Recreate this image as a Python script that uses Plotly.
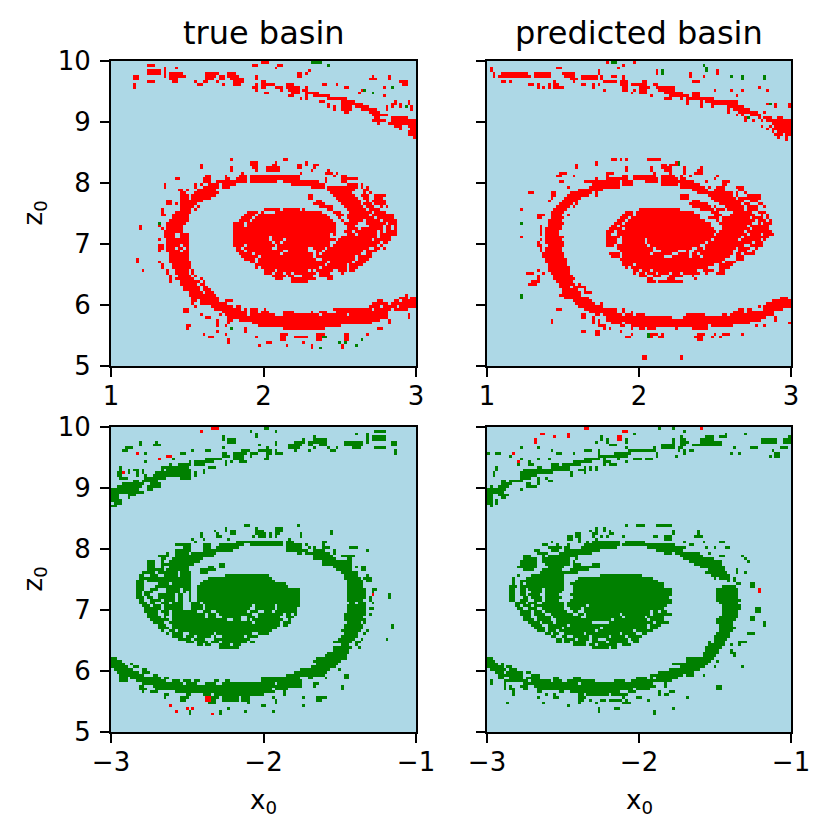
import plotly.graph_objects as go
from plotly.subplots import make_subplots

N = 110
BG, RED, GREEN = "#ADD8E6", "#FF0000", "#008000"

# Each entry: row from the top of the panel -> occupied cell columns (runs)
true_upper_red = {
0:"54-56",1:"13-15 51-52 60-61",2:"19 23 59",3:"13-17 19 71",4:"13-17 19 21-25 34-38 42-44 67-68 70",
5:"8-9 19 21-26 34-37 39-40 42-45 52 67-68 94 100",6:"8-9 21-23 34-36 39-40 43-47 52 93-95 100",
7:"13-15 22-23 30 33-34 38 44-47 54-55 104-106",8:"8 31-32 40 44-46 52 54-58 63-65 76-77 81 105-106",
9:"8 51-52 54-55 59-61 63-67 70 84-85 98",10:"52 61 64-67 69-70 90",11:"55-56 65-67 70-74 89",12:"64-65 70 73-78 98",
13:"68 70 78-84",14:"75-76 83-87 102 107",15:"78 83-90 101-102 104 107",16:"78 80 83-86 88-92 99 101 104 108",
17:"80 83-86 90-95 99 108",18:"84-85 93-96",19:"94-99",20:"95-96 101-106",21:"94-98 101-109",22:"96 100-109",
23:"102-104 107-109",24:"104 108-109",25:"107-109",26:"107-109",27:"109",
35:"43 62-63",36:"50-52 59 70",37:"32 50-52 58-59 67-68 70 73-74",38:"32 43 51-52 56-60 67-68 73",39:"43 52 56-60 72 78",
40:"47 68 77-79 81",41:"34-35 41 46-48 50-67 80 83-84",42:"23-24 33-35 41-42 45-48 50-67 77 83-88",
43:"33-35 38-44 45-48 50-53 54-59 62-74 77 83-84",44:"19 30 32 35-38 40-44 65-76 85-88 90",45:"19 30 33-38 40-42 72-76 78-82 83-88 90 92",
46:"24-25 27 31-37 78-82 83-87 91-92",47:"25-26 30-38 79-86 91 93",48:"25-27 29-37 71-72 80-87 90-92 95-98",
49:"25-27 29-35 71-72 81-88 91-92 95-97",50:"20-21 25-32 74-75 82-89 92 94-98",51:"20-21 23 25-30 73-76 83-89 91-93 95-98",
52:"25-29 31 75-79 84-90 92-94 97 99",53:"18 25-28 30 55-60 62-67 69 78-79 85-91 93-96",
54:"18 23-28 49-52 54 59-75 80-82 86-93 95-98",55:"18-19 22-27 48-51 53-77 81-83 85-92 94-101",56:"22-27 47-50 52-78 82 85-94 96-101",
57:"21-27 46-49 51-79 83 86-90 92-96 98-102",58:"17 20-26 44-47 49-80 84-88 92-98 100-102",59:"10 17 20-25 44-47 49-80 85-87 93-97 99-100 102",
60:"10 18 20-25 44-80 85-88 90-97 99-100 102",61:"19 20-25 44-80 84-86 88-95 97 99-102",62:"19 20-22 25-27 44-78 80 85-87 89-95 97-102",
63:"19 20-22 25-27 44-56 58-78 83-95 97-100",64:"17 20-27 44-56 58-61 63-80 82-93 95-100",65:"20-27 44-57 59-60 62-78 81-96 98-99",
66:"17-18 20-24 26-27 44-47 49-58 60-78 80-95 97",67:"17-18 20-22 24-25 27 45-46 48-57 60-70 73-76 78-92 95-96 98",
68:"17 20-24 26-27 45-47 49-61 64-70 74-75 77-90 92-95",69:"21-27 46-50 52-60 62-72 74 76-89 92-93",
70:"21-27 47-52 54-72 74-87 89-93",71:"9 21-27 48-51 53-73 76-87 89-92",72:"9 17 21-28 50-51 53-77 79-86 88-91",
73:"18 22-28 52-76 78-84 86-90",74:"18 22-27 28 52 54-74 76-84 86-88",75:"11 20 23-27 29 55-58 60-70 72 74-79 82-84 86-87",
76:"20 23-27 29 55-57 59-61 63-64 66-73 75-78 83",77:"21 24-28 30 58-62 64-65 69-72 75-79",78:"21 23-29 32 59-61 65-73 78-79",
79:"21 25-31 33 65-70",80:"25-30 32-33",81:"26-31 33-34",82:"26-31 33-35",83:"28-32 34-36",84:"28-37 106",85:"29-38 104-106 108-109",
86:"29-30 32-38 41-43 96-97 102-103 105-109",87:"29 32-41 94-99 101-109",88:"30 36-43 45-46 93-96 98-102 104-109",
89:"26-27 37-46 48 50-52 55 80-93 95-100 102-106",90:"26-27 40-48 50-52 54-56 62-65 72 75-77 81-99",
91:"32 39 41-48 50-58 62-74 76-84 86-99 107",92:"34-35 42-99 107",93:"38 42-43 46-96 100",94:"38 42 51-93 100",
95:"27-28 38 41 53-82",96:"27 48 62-76 96-97",97:"38 48",98:"33 41 61-63 74-76 84-85 92",99:"35-36 52 61-62 66-70 74-75 84-85",
100:"42 61-62 74-75 84-85",101:"42 56-57 69",102:"53 63 72 83",103:"72 83",}
true_upper_green = {0:"72-75",1:"78",9:"101",10:"91",11:"94",16:"106",58:"17",96:"43",99:"76-77",
100:"90",101:"82 84",102:"88",103:"75",}

pred_upper_red = {
0:"43 53",1:"49",2:"1 25-26 47",3:"1 40 61 83",4:"2 5-14 17-22 27-31 40 61 73 83",5:"2 4-15 17-22 28-31 34-39 41 45-46 49 73 78",
6:"30-32 34-39 41 49",7:"5-6 8 24 31 42-46 48-49 50 56-57 74-76",8:"15-16 18 22 24-25 34-35 38 40 48-49 50 52-57 60-61",
9:"18 20 22 24-27 38 49 50 55-57 58 61-67 98",10:"42 49-50 53 55-57 62-67 82 88 92 101",11:"52 55-57 64-70 74-76",12:"59 66-72 74-76 90",
13:"64-66 70 72-77 78-81",14:"72 77 79-90",15:"72 77 81-90 101 104 109",16:"77 81 87-92 104 109",17:"87 89-94",18:"87 91-97 100",
19:"90 92 95-98",20:"93 98 100-102 105-106",21:"93 96 99 101-105 106-109",22:"103-109",23:"99 102 104-109",24:"101 103-109",
25:"103 105-109",26:"104-106 108-109",27:"105 108",28:"108",
35:"45-46 48 50 58-61 62",36:"39 68",37:"32 39 63-64 66-67 68",38:"32 50 59 63-66 71 77",39:"50 59 64-66 71 76-77",
40:"26-28 43-45 60 66 71 75-77",41:"25-26 31 43 49-50 53-60 63-67 70 73 83",42:"39 43-50 53-61 63-68 70-71 82",
43:"26-27 35-37 38-47 49-52 57-61 63-74 79 85-87",44:"38-47 49-52 63-68 70-76 85-86",45:"29 37-42 43-47 70-78 80 83-85 90-92",
46:"33-37 38-41 74-79 82-85 91-92",47:"15-16 23-24 30-37 39 76-80 81-88 90 93",48:"23-24 29-36 39 70-72 80-88 90 94-98",
49:"23 28-33 70-72 81-89 91-98",50:"22 27-32 74-76 82-91 92 95-97",51:"26-30 32 73-79 84-91 93-94 98 99",
52:"25-29 31 74-80 82 86-92 94-97 100",53:"12 24-28 55-69 77-81 83-85 87-92 94-97",54:"23-27 50-52 54-74 81-83 89-95 98-100",
55:"18-20 23-26 29 49-52 54-76 82-84 88-96 99 101",56:"18-19 23-27 48-50 52-76 80-83 85-94 96-99 101",57:"22-26 47-49 51-78 83 85-96 98-100 102",
58:"12 22-27 46-48 50-80 84 85-95 98 100-102",59:"19 22-26 45-46 48-80 85-93 95-99 100-101",60:"19 21-26 44-48 50-81 85-94 96-99 100-101",
61:"19 21-25 43-45 47-82 84 85-92 94-99 100-102",62:"19 21-25 43-44 47-81 83-93 95-98 100-103",63:"12 21-27 43-47 49-82 83-91 93-99 100-101",
64:"19 21-26 43-46 49-56 58-80 82-90 92-98 100",65:"18 21-27 43-46 49-56 58-78 80-95 97-99",66:"18-19 22-27 43-45 47-57 59-76 79-92 95-99",
67:"19 21-26 47-59 61-73 76-77 79-89 91-94 97",68:"19 21-26 48-59 63-68 72 75-88 91-93 96",69:"20-27 44-47 49-58 60-66 69-72 74-75 77-88 90-91 93-96",
70:"20-27 45-47 49-63 67-72 74-76 78-87 90-92",71:"21-28 48-85 90-92",72:"21-28 49-84 86-89",73:"22-28 49-52 54-81 84-88",
74:"22-29 50 52-79 84-87",75:"18 22-29 53-54 56-58 60-73 74-75 78-81 84-85",76:"14-16 20 23-29 53 55-56 58-60 62-65 67-69 71-76 79 83-85",
77:"18 24-30 55-57 60-62 66-70 74",78:"18 24-31 58-59 65-67 75",79:"16-18 25-30 58-60 62-70",80:"15-17 26-31 33",81:"26-29 31-35",
82:"27-32 35",83:"27-33 35-37",84:"26-33",85:"28-36 106-108",86:"31-37 103-109",87:"32-38 41 101-109",
88:"33-41 98 100-109",89:"25-26 35-46 49 91-92 94-95 100-106",90:"37-46 49 52 89-92 94-103",
91:"34-35 39-40 42-48 50-52 54-56 72-78 85-86 88-103",92:"34-35 38 43-66 71-100 104",93:"23 38 40 43-98 104",94:"23 38 40 45-48 50-94 109",
95:"40-42 48-49 52-79 81-88 97 100",96:"42 44 52 55-56 58-60 68 74-79",97:"34-35 39-40 48",98:"39-40 52 59-61 63 76-78 82 85-87 92",
99:"50-51 59 62-63 75-77 81 84",100:"76-77",106:"56-57 70",107:"56-57 70",}
pred_upper_green = {0:"45-46",1:"78",2:"79",3:"63 79",4:"63",5:"88 92 100",6:"92 100",15:"102",20:"94",36:"69",37:"69",
58:"12",98:"58",99:"58",84:"12",85:"12",}

true_lower_green = {
0:"55-56",1:"50 59 95-98",2:"52 88 92",3:"40 52 73 92 94-98",4:"40 42-44 69 73-77 92 94-98",
5:"10 16 42-44 59 66-69 71-72 73-77 84-90 92 101-102",6:"10 15-17 53 59 64-68 71-72 75-77 84-90 101-102",
7:"5-7 40 56 64-67 73 78 81 87-89 95-98",8:"4-5 29 34-35 47-49 53-57 59 66 71 79-80 102",
9:"12 25-26 40-41 44-48 50-52 56-57 59-61 102",10:"40-42 44-47 50 56",11:"22 34-39 44-47 55-56",12:"12 28 30-36 41 43 46-48",
13:"21 24-28 30-33 41",14:"3 18-27 35-37",15:"3 6 8-9 11 18 20-28 33",16:"2-3 6 9 11 16-28 30 33",17:"2-3 9 12 15-25 25-28 30",
18:"3-5 12-19 25-28",19:"8-9 11-16",20:"4-11 14-17",21:"2-10 13-17",22:"0-9 13-14",23:"0-11",24:"0-2 6-8",25:"0-2 6",26:"0-3",27:"1-3",28:"0-1",
35:"48-49 67",36:"41 52 59-61",37:"37 41 43-44 52-54 59-61 79",38:"32 38 43-44 52-55 57 59-60 68 79",39:"32 38-39 51 53-55 57 59 68",
40:"29 33 42 64",41:"30 45-61 63-65 76-77",42:"23-27 28 33-35 39-47 50-61 63-68 70 76",43:"26-28 33-35 38-45 63-68 71 73 76-77 78 86-88",
44:"23-28 33-43 63-70 73-76 80 92",45:"20 23-27 29-37 67-68 70-78 80",46:"17-19 20 23-32 33-36 73-79 83-87",47:"18-19 22-32 73-80 85-86",
48:"13-15 18 21-31 76-84 85-86",49:"13-15 18-20 21-29 39-40 76-86",50:"13-15 18 21-27 35-36 39-40 80-86 88 90-91",
51:"13-18 20-27 32-37 81-86 90-91",52:"11-15 17-23 25-28 32-34 83-88",53:"10-11 14-16 19-23 25-28 41-56 84-88 92",
54:"10-16 17-22 23-28 35-57 84-89 91-93",55:"9-11 13-16 17-28 33-58 85-90 92 93",56:"9-11 17-20 22-28 32-62 85-90",57:"9-11 16-20 21-28 31-63 85-90",
58:"9-11 14-16 20-24 26-28 31-67 85-91 94-95",59:"9-10 12-14 20-24 26 28 31-67 85-91 94",60:"9-10 12-13 17-22 24-25 28 31-67 85-91 100",
61:"9-11 13-14 17-22 24-25 28 31-67 85-91 93 100",62:"10-11 14-17 19-22 24-25 28 31-67 85-90 93",63:"10-12 14-15 18-20 22-25 29-31 33-67 86-87 89-91 94",
64:"11-13 15-17 19-25 29-32 34-50 52-58 60-67 85-91",65:"12-17 19-25 29-32 34-49 52-58 60-66 85-91 93-94",66:"12-16 18-20 22-30 33-35 38-48 50-52 55-57 59-66 85-91",
67:"13-16 19-20 22-33 35-37 39-50 53-61 63-64 66 84-91 93",68:"13-17 19 22-33 35-37 40-46 49-51 53-60 63-65 84-90",69:"14-20 22-41 44-46 49 51-61 64 84-91",
70:"15-18 21-50 52-60 62-64 85-89 91",71:"17-19 22-60 62-63 84-90 101",72:"17-20 22-59 84-90 101",73:"18 21-22 24-57 83-89 92",
74:"20 22-25 28-36 38-50 53-56 84-88 91",75:"22-25 27-29 31-35 37 40-47 49-52 83-88",76:"24-28 30-33 37-41 42-49 82-87 90 99",
77:"27-29 31-34 36-38 40-48 50-51 80-86 88-89",78:"31-32 34-35 39-42 44-46 83-85 88",79:"39-45 80-86 89",80:"80-85",81:"78-85",
82:"77-84",83:"0-1 74-84",84:"0-3 73-82",85:"0-4 7 74-81",86:"0-5 8-9 72-80",87:"1-7 11-12 68-78 82",88:"2-9 11-13 66-77",
89:"3-11 15-16 63-76 84-85",90:"3-5 7-17 19-20 54-67 71-72 77 84-85",91:"3-5 9-19 22-24 26-28 30-31 37-38 41-42 54-68",
92:"11-25 27-30 34-37 40-58 60-68 73-74",93:"10-11 15-68 73 83",94:"10-12 16-57 59-63 83",95:"11 14-16 23-58 62",96:"19-20 27-28 33-35 37-54 62",
97:"19 25-27 36-38 40-45 47-49 58 69 74-76 77",98:"25-26 36-37 40-45 47-49 59 74-75",99:"35-37 49 59",100:"54-55 69",
101:"42",102:"28 39 48 58",103:"28 39",}
true_lower_red = {0:"36-38",1:"32",9:"9",10:"20-21",11:"17",16:"4",60:"94",97:"34-35",98:"34-35",100:"21",101:"27 29",102:"23",103:"36",}

pred_lower_green = {
0:"62 67",1:"71",2:"53 86 93",3:"41 70 79-81 84-86 109",4:"41 43 50 67 70-71 77-81 99-104 107-109",
5:"39 43 50 67 70-72 77-84 99-104 107-109",6:"44-46 63-66 67 70-71 74-76 77-84",7:"12 18 50 60 63-67 69 70 89 95-97 106-108",
8:"23 35-37 40 51-60 69 71 73-74 103",9:"0 3-4 25-26 31 40 46-51 61 71 88 91 104-105",10:"8 40-50 61 68 102 104-105",
11:"12 18 22 35-40 42 47 53-55 57-59",12:"11 15 31-37 42-44 50",13:"11 15-16 23-25 27-33 42 44-46",14:"3 18-19 23-29 35 37 39",
15:"3 13-26 27-29 33-35 37 39",16:"2 12 13-23 30 35",17:"2 12 13-17 30",18:"12-15 18 21",19:"5-6 8 9-12 18 22-23",20:"5-8 14-15 18",
21:"1 4-7 14-17",22:"0-6 12",23:"0-5",24:"0-1 4-7",25:"0-1 5-6",26:"0-1 3",27:"0-1 3",28:"1",
35:"50 54-56 61-63 64-66",36:"39 42",37:"37 39 42 44 67 76",38:"32-33 38-39 44-45 67 76",39:"29-30 32-33 38 41 43 49 60-61 64-66 75-77",
40:"29-30 33 39 64-66",41:"23 33 36 38-47 50-56 71 78 84-85",42:"20-21 25 29 35-37 38-47 49-59 60-67 73-74",43:"22-26 28 29 34-46 58-70 71 79 82 86-87",
44:"17-18 23-25 28-40 61-70",45:"18-21 26-37 64-66 68-76 80",46:"13-15 20 22-32 70-77 84-85 92",47:"13-16 17 20-22 23-29 32 71-81 93",
48:"12-17 20-29 31 73-84 94",49:"12-17 21-29 31-33 38-40 75-84",50:"11-17 22-27 31-37 38-40 77-85",51:"13-16 20-26 30-36 80-85 90",
52:"19-26 27-32 79-86 90 93",53:"11 16-24 25-27 41-55 81-87",54:"9 14-20 21-27 33-59 82 84-87 89",55:"9 12-18 19-27 32-61 87 89",
56:"9 12 14-19 20-27 30-63 90-91 95-96",57:"8-10 12-14 15-27 31-63 85-89 95-96",58:"8-9 12-13 15-19 21-27 31-66 83-90",59:"8-9 12-13 16-19 21-26 31-66 83-90",
60:"8-9 12-13 15-18 21-25 30-66 83-90",61:"8-9 13-14 16-19 21-26 31-65 83-90",62:"8-9 12-14 17-19 21-25 30-66 83-91",63:"10-13 15-17 20-27 29-66 84-90",
64:"10-11 13-15 17-27 29-35 37-64 85-91",65:"11-12 15-17 20-27 30-33 35-63 85-91 97-98",66:"12-15 17-19 21-28 31-32 35-58 60-61 63-64 85-90 97-98",
67:"12-15 17-20 23-30 33-34 36-47 49-58 60-66 85-90",68:"13-15 18-22 24-33 36-48 50-56 58-63 84-90 95-96",69:"13-16 18-22 25-44 46-57 59-63 83-89 95-96",
70:"15-18 20-23 25-37 44-59 61-65 83-88 100",71:"16-19 22-28 30-57 59-62 84-88 100",72:"17-20 22-26 28-40 42-57 59-61 84-89",
73:"18-20 22-24 26-38 40-52 54-59 84-88",74:"21-22 24-25 28-34 36-47 49-53 56-57 83-87 94-96",75:"23-24 27-28 31-36 38-43 45-49 51-55 82-87",
76:"25-26 28-31 33-36 38-39 43-50 52-54 82-86",77:"25-26 28-29 31-35 38-42 44-50 53-54 80 82-85 91-93",78:"31-35 37-38 40-46 49-51 80-85 88 91",
79:"38-43 45-46 79-84",80:"79-83 88",81:"78-83 88-89",82:"78-82 89",83:"0-1 72-81",84:"0-2 72-80 83",85:"0-3 5 67-79",86:"0-5 7-8 70-78 82 92",
87:"1-6 8-10 66-76",88:"3-5 7-12 14-15 62-74",89:"4-12 16-18 59-70 72-74 78",90:"4-5 8-12 14-18 24-25 31-33 54-57 59 61-68",
91:"1 6-14 16-22 24-26 29-38 46-49 52-66",92:"1 6 13-32 34-59 64",93:"6 8 12-14 17-60 64 83-84",94:"6 8-9 13-14 18-52 54-58 83-84",
95:"9 18-19 26-27 30-47 51-53 62 66-67",96:"9 21 24 33-34 36-43 45-50 62 64-65",97:"18 24-25 33-35 49 54-55 72",98:"33-34 37 41-42 44-48 50 58",
99:"7 20 33 39 49-51",100:"29",101:"40 46-47 67",102:"40 60",103:"60",}
pred_lower_red = {0:"35-36 77",1:"49-50",2:"19-20 29",3:"24 29 47-48",4:"17 47-48",5:"17",9:"9",12:"11",58:"98",59:"98",}

PANELS = [
    (true_upper_red, true_upper_green, 1, 2),
    (pred_upper_red, pred_upper_green, 1, 2),
    (true_lower_green, true_lower_red, 2, 1),
    (pred_lower_green, pred_lower_red, 2, 1),
]

def to_grid(main, specks, main_code, speck_code):
    grid = [[0] * N for _ in range(N)]
    for rows, code in ((main, main_code), (specks, speck_code)):
        for r, text in rows.items():
            for part in text.split():
                a, _, b = part.partition("-")
                for c in range(int(a), int(b or a) + 1):
                    if 0 <= c < N:
                        grid[r][c] = code
    return grid[::-1]

fig = make_subplots(rows=2, cols=2)
X_RANGES = [(1, 3), (1, 3), (-3, -1), (-3, -1)]
for i, (panel, xr) in enumerate(zip(PANELS, X_RANGES)):
    main, specks, mc, sc = panel
    fig.add_trace(go.Heatmap(
        z=to_grid(main, specks, mc, sc),
        x0=xr[0] + (xr[1] - xr[0]) / N / 2, dx=(xr[1] - xr[0]) / N,
        y0=5 + 5 / N / 2, dy=5 / N,
        zmin=0, zmax=2, showscale=False, hoverinfo="skip",
        colorscale=[[0, BG], [0.33, BG], [0.33, RED], [0.67, RED], [0.67, GREEN], [1, GREEN]],
    ), row=i // 2 + 1, col=i % 2 + 1)

W, H = 831, 835
XD = [(111, 416), (487, 791)]
YD = [(61, 366), (427, 732)]
FONT = "DejaVu Sans"
TICK_SIZE = 26
axcommon = dict(showgrid=False, zeroline=False, showline=True, mirror=True, linecolor="black",
                linewidth=2, ticks="outside", ticklen=9, tickwidth=2, tickcolor="black", automargin=False,
                tickfont=dict(family=FONT, size=TICK_SIZE, color="black"))
for i, xr in enumerate(X_RANGES):
    r, c = i // 2, i % 2
    ticks = [xr[0], sum(xr) / 2, xr[1]]
    labels = [str(int(t)).replace("-", "\u2212") for t in ticks]
    xa = dict(domain=[XD[c][0] / W, XD[c][1] / W], range=list(xr), tickvals=ticks, ticktext=labels,
              ticklabelstandoff=-3, **axcommon)
    ya = dict(domain=[1 - YD[r][1] / H, 1 - YD[r][0] / H], range=[5, 10],
              tickvals=[5, 6, 7, 8, 9, 10], showticklabels=(c == 0), ticklabelstandoff=4, **axcommon)
    fig.update_layout({f"xaxis{i + 1}": xa, f"yaxis{i + 1}": ya})

def label(text, px, py, size, angle=0):
    return dict(text=text, x=px / W, y=1 - py / H, xref="paper", yref="paper", xanchor="center", yanchor="middle",
                showarrow=False, textangle=angle, font=dict(family=FONT, size=size, color="black"))

notes = [label(t, sum(XD[k]) / 2, 33, 32) for k, t in enumerate(["true basin", "predicted basin"])]
notes += [label("x<sub>0</sub>", sum(XD[k]) / 2, 801, TICK_SIZE) for k in range(2)]
notes += [label("z<sub>0</sub>", 34, sum(YD[k]) / 2, TICK_SIZE, -90) for k in range(2)]

fig.update_layout(
    width=W, height=H, autosize=False, margin=dict(l=0, r=0, t=0, b=0),
    paper_bgcolor="white", plot_bgcolor=BG, showlegend=False, annotations=notes,
)
fig.write_html("out.html", post_script="document.body.style.margin='0';", config={"displayModeBar": False})
